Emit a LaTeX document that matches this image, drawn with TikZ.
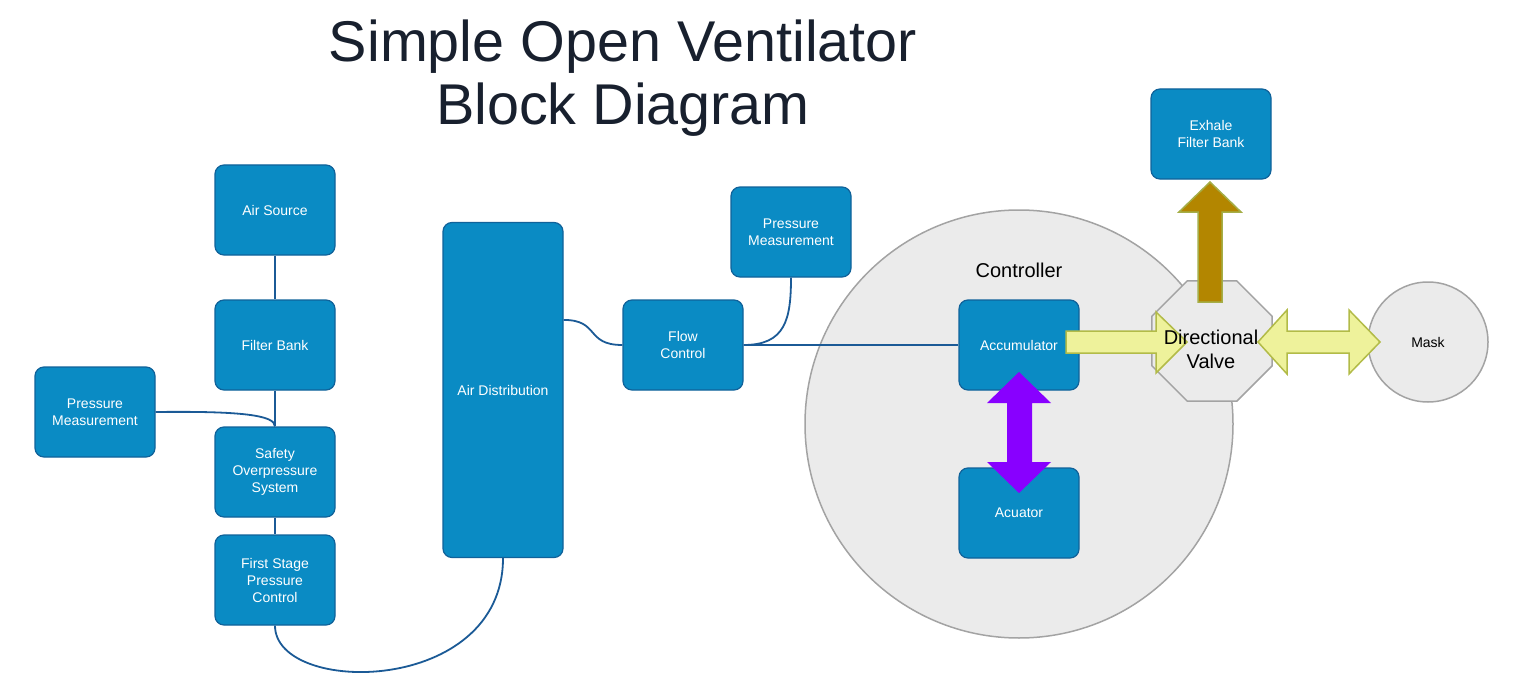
\documentclass[tikz,border=0pt]{standalone}
\usepackage{fontspec}
\setmainfont{Liberation Sans}
\usetikzlibrary{shapes.geometric}
\definecolor{boxfill}{HTML}{0A8BC4}
\definecolor{boxline}{HTML}{10629A}
\definecolor{wirec}{HTML}{1B5A96}
\definecolor{circfill}{HTML}{EBEBEB}
\definecolor{circline}{HTML}{A3A3A3}
\definecolor{yfill}{HTML}{EEF29B}
\definecolor{yline}{HTML}{B2BB48}
\definecolor{exfill}{HTML}{B38600}
\definecolor{exline}{HTML}{A5AE48}
\definecolor{purp}{HTML}{8800FF}
\definecolor{titlec}{HTML}{18202E}
\begin{document}
\begin{tikzpicture}[x=1pt,y=-1pt,
  blk/.style={draw=boxline, fill=boxfill, line width=1.2pt, rounded corners=9pt,
    minimum width=120pt, minimum height=90pt, text=white, align=center,
    font=\fontsize{14}{17}\selectfont, inner sep=0pt},
  wire/.style={draw=wirec, line width=1.8pt},
  grayshape/.style={draw=circline, fill=circfill, line width=1.5pt, inner sep=0pt},
  titletxt/.style={anchor=base, text=titlec, font=\fontsize{57.5}{63}\selectfont, inner sep=0pt},
  bigarrow/.style={line width=1.5pt, line join=miter}]
\useasboundingbox (0,0) rectangle (1526,682);

% title
\node[titletxt] (t1) at (623,62) {Simple Open Ventilator};
\node[titletxt] (t2) at (623,125) {Block Diagram};

% controller, valve, mask
\node[grayshape, circle, minimum size=428pt] (ctrl) at (1019,424) {};
\node[font=\fontsize{20}{24}\selectfont, inner sep=0pt] (ctrllbl) at (1019,270) {Controller};
\node[grayshape, regular polygon, regular polygon sides=8, minimum size=130pt] (valve) at (1212,341) {};
\node[grayshape, circle, minimum size=120pt, font=\fontsize{14}{17}\selectfont] (mask) at (1428,342) {Mask};

% blocks
\node[blk] (airsrc) at (275,210) {Air Source};
\node[blk] (filter) at (275,345) {Filter Bank};
\node[blk] (pml) at (95,412) {Pressure\\Measurement};
\node[blk] (safety) at (275,472) {Safety\\Overpressure\\System};
\node[blk] (fspc) at (275,580) {First Stage\\Pressure\\Control};
\node[blk, minimum height=335pt] (airdist) at (503,390) {Air Distribution};
\node[blk] (flow) at (683,345) {Flow\\Control};
\node[blk] (pmt) at (791,232) {Pressure\\Measurement};
\node[blk] (exhale) at (1211,134) {Exhale\\Filter Bank};
\node[blk] (accum) at (1019,345) {Accumulator};
\node[blk] (acuator) at (1019,513) {Acuator};

% wires
\draw[wire] (airsrc.south) -- (filter.north);
\draw[wire] (filter.south) -- (safety.north);
\draw[wire] (pml.east) .. controls (240,411) and (275,415) .. (safety.north);
\draw[wire] (safety.south) -- (fspc.north);
\draw[wire] (fspc.south) .. controls (275,696) and (503,696) .. (airdist.south);
\draw[wire] ([yshift=-98pt]airdist.north east) .. controls (600,320) and (585,345) .. (flow.west);
\draw[wire] (flow.east) .. controls (785,345) and (791,320) .. (pmt.south);
\draw[wire] (flow.east) -- (accum.west);

% big arrows
\draw[bigarrow, draw=exline, fill=exfill]
  (1198,302) -- (1198,212) -- (1179,212) -- (1210,182) -- (1241,212) -- (1222,212) -- (1222,302) -- cycle;
\draw[bigarrow, draw=yline, fill=yfill]
  (1066,331) -- (1156,331) -- (1156,312) -- (1187,342) -- (1156,373) -- (1156,353) -- (1066,353) -- cycle;
\draw[bigarrow, draw=yline, fill=yfill]
  (1258,342) -- (1287,310) -- (1287,331) -- (1349,331) -- (1349,310) -- (1380,342)
  -- (1349,374) -- (1349,353) -- (1287,353) -- (1287,374) -- cycle;
\fill[purp]
  (1019,372) -- (1051,403) -- (1032,403) -- (1032,462) -- (1051,462) -- (1019,493)
  -- (987,462) -- (1007,462) -- (1007,403) -- (987,403) -- cycle;

% valve label
\node[font=\fontsize{20}{24}\selectfont, align=center, inner sep=0pt] (valvelbl) at (1211,349) {Directional\\Valve};
\end{tikzpicture}
\end{document}
